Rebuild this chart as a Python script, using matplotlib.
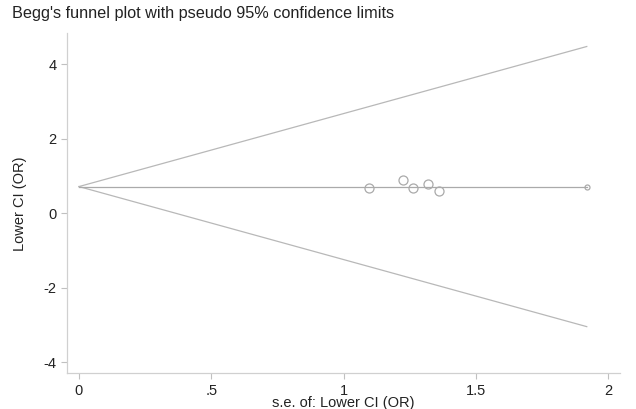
import numpy as np
import matplotlib
matplotlib.use('Agg')
import matplotlib.pyplot as plt

plt.rcParams['font.family'] = ['Liberation Sans', 'DejaVu Sans']
plt.rcParams['axes.unicode_minus'] = False

# Study estimates
se = [1.096, 1.223, 1.261, 1.320, 1.362, 1.919]
lower_ci = [0.671, 0.894, 0.671, 0.778, 0.599, 0.700]
marker_sizes = [6.5, 6.5, 6.5, 6.5, 6.5, 3.6]
pooled = 0.714

fig = plt.figure(figsize=(6.36, 4.09), dpi=100)
ax = fig.add_axes([0.105, 0.0873, 0.87, 0.8313])

# pseudo 95% confidence limits
se_line = np.array([0, max(se)])
ax.plot(se_line, pooled + 1.96 * se_line, color='#b8b8b8', lw=0.9)
ax.plot(se_line, pooled - 1.96 * se_line, color='#b8b8b8', lw=0.9)
ax.plot(se_line, [pooled, pooled], color='#aaaaaa', lw=0.9)

for x, y, ms in zip(se, lower_ci, marker_sizes):
    ax.plot(x, y, 'o', mfc='none', mec='#aaaaaa', mew=0.9, ms=ms)

ax.set_xlim(-0.046, 2.045)
ax.set_ylim(-4.30, 4.83)
ax.set_xticks([0, 0.5, 1, 1.5, 2])
ax.set_xticklabels(['0', '.5', '1', '1.5', '2'])
ax.set_yticks([-4, -2, 0, 2, 4])

for s in ['top', 'right']:
    ax.spines[s].set_visible(False)
for s in ['left', 'bottom']:
    ax.spines[s].set_color('#d0d0d0')
    ax.spines[s].set_linewidth(0.9)
ax.tick_params(colors='#c0c0c0', labelcolor='#222222', labelsize=10.5, length=4, width=0.8)

ax.set_xlabel('s.e. of: Lower CI (OR)', fontsize=10.5, color='#222222', labelpad=-1)
ax.set_ylabel('Lower CI (OR)', fontsize=10.5, color='#222222', labelpad=12)
fig.text(0.019, 0.967, "Begg's funnel plot with pseudo 95% confidence limits",
         fontsize=11.7, color='#222222', va='center')

fig.savefig('out.png', dpi=100, facecolor='white')
